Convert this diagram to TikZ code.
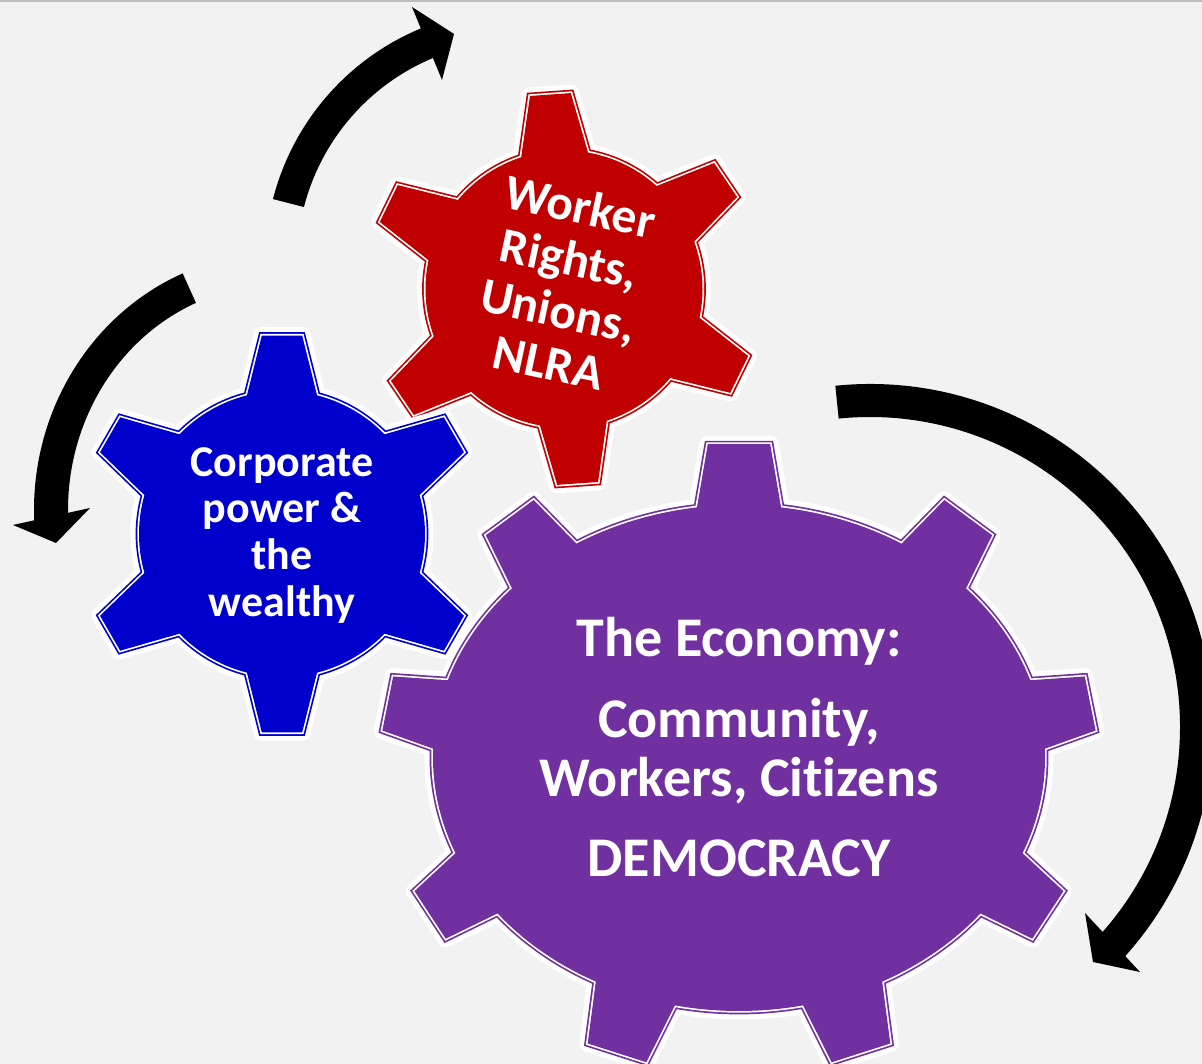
\documentclass[tikz,border=0pt]{standalone}
\usepackage{fontspec}
\setmainfont{Carlito}[Ligatures={NoCommon,NoContextual}]
\definecolor{canvas}{RGB}{242,242,242}
\definecolor{rule}{RGB}{190,190,190}
\definecolor{gearred}{RGB}{192,0,0}
\definecolor{gearblue}{RGB}{0,0,204}
\definecolor{gearpurple}{RGB}{112,48,160}

% Outline of a toothed wheel around the current origin.
% Parameters: \gteeth teeth, first tooth at angle \gphase,
% half-angle of a tooth tip \gtip and of its root \groot,
% outer radii \grxo/\gryo and body radii \grxi/\gryi (in pt).
\newcommand\gearoutline{%
  ({\grxi*cos(\gphase-\groot)},{\gryi*sin(\gphase-\groot)})
  \foreach \k in {1,...,\gteeth}{
    -- ({\grxo*cos(\gphase+(\k-1)*360/\gteeth-\gtip)},{\gryo*sin(\gphase+(\k-1)*360/\gteeth-\gtip)})
    -- ({\grxo*cos(\gphase+(\k-1)*360/\gteeth+\gtip)},{\gryo*sin(\gphase+(\k-1)*360/\gteeth+\gtip)})
    -- ({\grxi*cos(\gphase+(\k-1)*360/\gteeth+\groot)},{\gryi*sin(\gphase+(\k-1)*360/\gteeth+\groot)})
    arc[start angle={\gphase+(\k-1)*360/\gteeth+\groot},
        end angle={\gphase+\k*360/\gteeth-\groot},
        x radius=\grxi pt, y radius=\gryi pt]
  } -- cycle}

% White halo, thin coloured rim, thin white rim, coloured body.
\newcommand\drawgear[2]{%
  \begin{scope}[shift={#2}]
    \draw[white, line width=17pt, line join=round] \gearoutline;
    \draw[#1, line width=6.8pt] \gearoutline;
    \draw[white, line width=3.4pt] \gearoutline;
    \fill[#1] \gearoutline;
  \end{scope}}

\begin{document}
\begin{tikzpicture}[x=1pt, y=1pt,
  gearlabel/.style={text=white, inner sep=0pt, anchor=base,
    font=\bfseries\fontsize{44}{52}\selectfont},
  tiltlabel/.style={gearlabel, rotate=-12,
    font=\bfseries\fontsize{49.5}{52}\selectfont},
  biglabel/.style={gearlabel, font=\bfseries\fontsize{56}{60}\selectfont},
  cyclearrow/.style={fill=black}]

\useasboundingbox (0,0) rectangle (1202,1064);
\fill[canvas] (0,0) rectangle (1202,1064);
\fill[rule] (0,1062) rectangle (1202,1064);
\clip (0,0) rectangle (1202,1064);

% ---------- gears ----------
\coordinate (redc) at (564,775);
\coordinate (bluec) at (282,530);
\coordinate (purplec) at (739,306);

\def\gteeth{6}\def\gphase{94}\def\gtip{6}\def\groot{14}
\def\grxo{196}\def\gryo{196}\def\grxi{138.5}\def\gryi{138.5}
\drawgear{gearred}{(redc)}

\def\gteeth{6}\def\gphase{90}\def\gtip{5.8}\def\groot{14.2}
\def\grxo{199.5}\def\gryo{199.5}\def\grxi{143}\def\gryi{143}
\drawgear{gearblue}{(bluec)}

\def\gteeth{9}\def\gphase{90}\def\gtip{5}\def\groot{7.9}
\def\grxo{358}\def\gryo{315}\def\grxi{306}\def\gryi{253}
\drawgear{gearpurple}{(purplec)}

% ---------- labels ----------
\node[tiltlabel] (w1) at (577,841) {Worker};
\node[tiltlabel] (w2) at (566,789) {Rights,};
\node[tiltlabel] (w3) at (555,737) {Unions,};
\node[tiltlabel] (w4) at (545,685) {NLRA};

\node[gearlabel] (c1) at (282,587) {Corporate};
\node[gearlabel] (c2) at (282,541) {power \&};
\node[gearlabel] (c3) at (282,494) {the};
\node[gearlabel] (c4) at (282,447) {wealthy};

\node[biglabel] (e1) at (739,407) {The Economy:};
\node[biglabel] (e2) at (739,326) {Community,};
\node[biglabel] (e3) at (739,267) {Workers, Citizens};
\node[biglabel] (e4) at (739,187) {DEMOCRACY};

% ---------- turning arrows ----------
% upper arrow, running clockwise up to the right
\begin{scope}[shift={(518,802)}]
  \fill[cyclearrow] (165.6:253pt) arc[start angle=165.6, end angle=111.5, radius=253pt]
    -- (111.5:221pt) arc[start angle=111.5, end angle=165.6, radius=221pt] -- cycle;
\end{scope}
\coordinate (h1a) at (412,1057);
\coordinate (h1t) at (454,1030);
\coordinate (h1b) at (442,984);
\fill[cyclearrow] (h1a) -- (h1t) -- (h1b) -- cycle;

% left arrow, running anticlockwise down the left side
\begin{scope}[shift={(278,554)}]
  \fill[cyclearrow] (113:244pt and 257pt)
    arc[start angle=113, end angle=183, x radius=244pt, y radius=257pt]
    -- (183:210pt and 225pt)
    arc[start angle=183, end angle=113, x radius=210pt, y radius=225pt] -- cycle;
\end{scope}
\coordinate (h2a) at (13,539);
\coordinate (h2t) at (56,521);
\coordinate (h2b) at (90,556);
\fill[cyclearrow] (h2a) -- (h2t) -- (h2b) -- cycle;

% right arrow, running clockwise round the large gear
\begin{scope}[shift={(870,337)}]
  \fill[cyclearrow] (95.8:343pt) arc[start angle=95.8, end angle=-43, radius=343pt]
    -- (-43:310pt) arc[start angle=-43, end angle=95.8, radius=310pt] -- cycle;
\end{scope}
\coordinate (h3a) at (1085,151);
\coordinate (h3t) at (1093,102);
\coordinate (h3b) at (1140,92);
\fill[cyclearrow] (h3a) -- (h3t) -- (h3b) -- cycle;

\end{tikzpicture}
\end{document}
